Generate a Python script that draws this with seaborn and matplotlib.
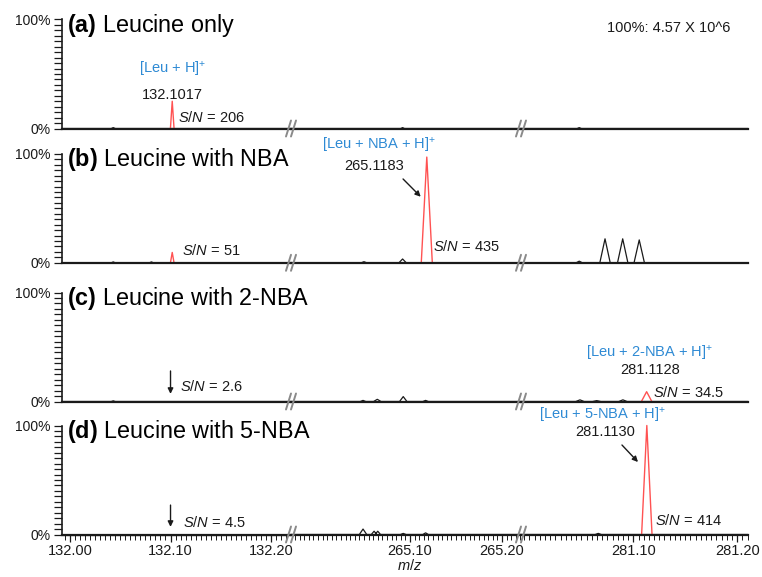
import matplotlib
matplotlib.use("Agg")
import matplotlib.pyplot as plt
from matplotlib.lines import Line2D
from matplotlib.ticker import MultipleLocator, FixedLocator
import seaborn as sns

sns.set_theme(style="white")
plt.rcParams["font.family"] = ["Liberation Sans", "DejaVu Sans"]
plt.rcParams["mathtext.fontset"] = "custom"
plt.rcParams["mathtext.rm"] = "Liberation Sans"
plt.rcParams["mathtext.it"] = "Liberation Sans:italic"
plt.rcParams["mathtext.bf"] = "Liberation Sans:bold"

# ---- m/z windows of the broken x axis ----
seg_limits = [(131.992, 132.2199), (264.9707, 265.2207), (280.992, 281.2103)]
seg_ticks = [[132.00, 132.10, 132.20], [265.10, 265.20], [281.10, 281.20]]
seg_ticklabels = [["132.00", "132.10", "132.20"], ["265.10", "265.20"], ["281.10", "281.20"]]

panel_titles = [r"$\mathbf{(a)}$ Leucine only",
                r"$\mathbf{(b)}$ Leucine with NBA",
                r"$\mathbf{(c)}$ Leucine with 2-NBA",
                r"$\mathbf{(d)}$ Leucine with 5-NBA"]

# ---- background (black) peaks: m/z, relative intensity %, half width ----
a_trace_mz = [132.043, 265.092, 281.048]
a_trace_int = [0.8, 0.8, 0.8]
a_trace_hw = [0.002, 0.002, 0.002]

b_trace_mz = [132.043, 132.081, 265.050, 265.092, 281.048, 281.0728, 281.0898, 281.1057]
b_trace_int = [0.8, 0.8, 1.0, 3.5, 1.5, 22, 22, 21]
b_trace_hw = [0.002, 0.002, 0.003, 0.004, 0.003, 0.005, 0.005, 0.005]

c_trace_mz = [132.043, 265.049, 265.0645, 265.0927, 265.117, 281.0487, 281.0648, 281.090]
c_trace_int = [0.6, 1.0, 2.0, 4.5, 1.0, 1.5, 0.8, 1.5]
c_trace_hw = [0.002, 0.003, 0.004, 0.004, 0.003, 0.004, 0.004, 0.004]

d_trace_mz = [265.049, 265.061, 265.065, 265.0927, 265.117, 281.0663]
d_trace_int = [5, 3, 3, 1, 1.5, 1]
d_trace_hw = [0.004, 0.003, 0.003, 0.003, 0.003, 0.003]

# ---- leucine ion peaks (red) ----
a_ion_mz = [132.1017]
a_ion_int = [25]
a_ion_hw = [0.0018]

b_ion_mz = [132.1017, 265.1183]
b_ion_int = [9.5, 97]
b_ion_hw = [0.0018, 0.006]

c_ion_mz = [281.1128]
c_ion_int = [9]
c_ion_hw = [0.005]

d_ion_mz = [281.1130]
d_ion_int = [100]
d_ion_hw = [0.005]

traces = [(a_trace_mz, a_trace_int, a_trace_hw),
          (b_trace_mz, b_trace_int, b_trace_hw),
          (c_trace_mz, c_trace_int, c_trace_hw),
          (d_trace_mz, d_trace_int, d_trace_hw)]
ions = [(a_ion_mz, a_ion_int, a_ion_hw),
        (b_ion_mz, b_ion_int, b_ion_hw),
        (c_ion_mz, c_ion_int, c_ion_hw),
        (d_ion_mz, d_ion_int, d_ion_hw)]

BLUE = "#2e8ad4"
RED = "#ff5252"
INK = "#1a1a1a"
GREY = "#8a8a8a"

FW, FH = 762, 577
fig = plt.figure(figsize=(FW / 100, FH / 100), dpi=100)

row_base = [128.5, 262.8, 401.5, 534.5]   # pixel rows of the 0% lines
row_h = 109
seg_left = [62, 291, 521]
seg_w = [229, 230, 227]


def peak_series(mz, inten, hw, lo, hi):
    pts = sorted((m, i, w) for m, i, w in zip(mz, inten, hw) if lo <= m <= hi)
    xs, ys = [lo], [0.0]
    for m, i, w in pts:
        xs += [m - w, m, m + w]
        ys += [0.0, i, 0.0]
    xs.append(hi)
    ys.append(0.0)
    return xs, ys


axes = []
for r in range(4):
    row = []
    for s in range(3):
        ax = fig.add_axes([seg_left[s] / FW, 1 - row_base[r] / FH,
                           seg_w[s] / FW, row_h / FH])
        lo, hi = seg_limits[s]
        ax.set_xlim(lo, hi)
        ax.set_ylim(0, 100)
        ax.set_facecolor("none")
        for sp in ("top", "right"):
            ax.spines[sp].set_visible(False)
        ax.spines["bottom"].set_color(INK)
        ax.spines["bottom"].set_linewidth(1.6)
        if s == 0:
            ax.spines["left"].set_color(INK)
            ax.spines["left"].set_linewidth(1.2)
            ax.yaxis.set_major_locator(FixedLocator([0, 100]))
            ax.set_yticklabels(["0%", "100%"])
            ax.yaxis.set_minor_locator(MultipleLocator(5))
            ax.tick_params(axis="y", which="both", direction="out", length=6,
                           width=0.9, color=INK, left=True, labelsize=10,
                           labelcolor=INK, pad=2)
        else:
            ax.spines["left"].set_visible(False)
            ax.set_yticks([])
        if r == 3:
            ax.set_xticks(seg_ticks[s])
            ax.set_xticklabels(seg_ticklabels[s])
            ax.xaxis.set_minor_locator(MultipleLocator(0.005))
            ax.tick_params(axis="x", which="major", direction="out", length=5,
                           width=0.9, color=INK, bottom=True, labelsize=10.5,
                           labelcolor=INK, pad=2)
            ax.tick_params(axis="x", which="minor", direction="out", length=3.5,
                           width=0.7, color=INK, bottom=True)
        else:
            ax.set_xticks([])
        ax.grid(False)

        # background trace
        tx, ty = peak_series(*traces[r], lo, hi)
        sns.lineplot(x=tx, y=ty, sort=False, estimator=None, color=INK,
                     linewidth=0.9, ax=ax, clip_on=False)
        # leucine ion peaks
        imz, iint, ihw = ions[r]
        for m, i, w in zip(imz, iint, ihw):
            if lo <= m <= hi:
                sns.lineplot(x=[m - w, m, m + w], y=[0, i, 0], sort=False,
                             estimator=None, color=RED, linewidth=1.0, ax=ax,
                             clip_on=False)
        row.append(ax)
    axes.append(row)

    # panel title
    fig.text(67 / FW, 1 - (row_base[r] - 103) / FH, panel_titles[r],
             fontsize=16.8, color="black", ha="left", va="center")

    # axis-break marks
    for bx in (291, 521):
        for off in (-2.5, 2.5):
            x0, x1 = bx + off - 2.5, bx + off + 2.5
            y0, y1 = row_base[r] + 8, row_base[r] - 8
            fig.add_artist(Line2D([x0 / FW, x1 / FW], [1 - y0 / FH, 1 - y1 / FH],
                                  color=GREY, linewidth=1.4,
                                  transform=fig.transFigure))

SN = r"$\mathit{S/N}$"
TXT = dict(fontsize=10.5, color=INK)
ARROW = dict(arrowstyle="-|>", color=INK, lw=1.0, mutation_scale=8, shrinkA=0, shrinkB=0)

# (a)
ax = axes[0][0]
ax.text(132.1017, 53.7, r"[Leu + H]$^{+}$", ha="center", va="center", fontsize=10.5, color=BLUE)
ax.text(132.1017, 30.7, "132.1017", ha="center", va="center", **TXT)
ax.text(132.1074, 10.5, SN + " = 206", ha="left", va="center", **TXT)
fig.text(607 / FW, 1 - 28 / FH, "100%: 4.57 X 10^6", ha="left", va="center", **TXT)

# (b)
ax = axes[1][0]
ax.text(132.1114, 11.7, SN + " = 51", ha="left", va="center", **TXT)
ax = axes[1][1]
ax.text(265.0664, 108, r"[Leu + NBA + H]$^{+}$", ha="center", va="center", fontsize=10.5, color=BLUE)
ax.text(265.0609, 88.8, "265.1183", ha="center", va="center", **TXT)
ax.annotate("", xy=(265.1117, 60.6), xytext=(265.0925, 76.9), arrowprops=ARROW)
ax.text(265.125, 15.4, SN + " = 435", ha="left", va="center", **TXT)

# (c)
ax = axes[2][0]
ax.annotate("", xy=(132.10, 7), xytext=(132.10, 28), arrowprops=ARROW)
ax.text(132.1094, 14.2, SN + " = 2.6", ha="left", va="center", **TXT)
ax = axes[2][2]
ax.text(281.116, 43.6, r"[Leu + 2-NBA + H]$^{+}$", ha="center", va="center", fontsize=10.5, color=BLUE)
ax.text(281.116, 28.9, "281.1128", ha="center", va="center", **TXT)
ax.text(281.119, 8.7, SN + " = 34.5", ha="left", va="center", **TXT)

# (d)
ax = axes[3][0]
ax.annotate("", xy=(132.10, 7), xytext=(132.10, 27), arrowprops=ARROW)
ax.text(132.1124, 10.6, SN + " = 4.5", ha="left", va="center", **TXT)
ax = axes[3][2]
ax.text(281.0708, 109.6, r"[Leu + 5-NBA + H]$^{+}$", ha="center", va="center", fontsize=10.5, color=BLUE)
ax.text(281.0728, 94.0, "281.1130", ha="center", va="center", **TXT)
ax.annotate("", xy=(281.1045, 66.5), xytext=(281.0891, 82.1), arrowprops=ARROW)
ax.text(281.1209, 13.3, SN + " = 414", ha="left", va="center", **TXT)

fig.text(410 / FW, 1 - 566 / FH, r"$\mathit{m/z}$", ha="center", va="center", fontsize=10.5, color=INK)

fig.savefig("out.png", dpi=100, facecolor="white")
